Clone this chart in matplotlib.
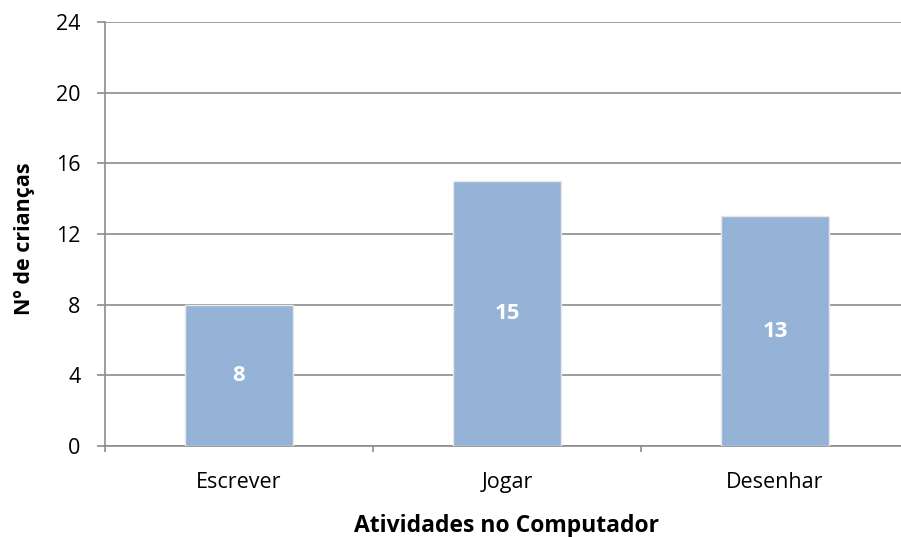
import numpy as np
import matplotlib.pyplot as plt

categorias = ['Escrever', 'Jogar', 'Desenhar']
criancas = [8, 15, 13]
y_ticks = [0, 4, 8, 12, 16, 20, 24]

plt.rcParams['font.family'] = ['Open Sans', 'DejaVu Sans']

fig = plt.figure(figsize=(9.01, 5.37), dpi=100)
# the plot area runs past the right edge, as in the original
ax = fig.add_axes([105 / 901, 1 - 446 / 537, 804 / 901, 424 / 537])

x = np.arange(len(categorias))
barras = ax.bar(x, criancas, width=0.4, color='#95B3D7',
                edgecolor='#E8E8E8', linewidth=1, zorder=3)

for b, v in zip(barras, criancas):
    ax.text(b.get_x() + b.get_width() / 2, v / 2, str(v),
            ha='center', va='center', color='white',
            fontsize=16, fontweight='bold', zorder=4)

ax.set_xlim(-0.5, len(categorias) - 0.5)
ax.set_ylim(0, 24)
ax.set_yticks(y_ticks)
ax.yaxis.grid(True, color='#8C8C8C', linewidth=1.2, zorder=0)

ax.set_xticks(x)
ax.set_xticklabels(categorias, fontsize=15.5)
ax.set_xticks(np.arange(len(categorias) + 1) - 0.5, minor=True)
ax.tick_params(axis='x', which='major', length=0, pad=18.5)
ax.tick_params(axis='x', which='minor', length=4.5, color='#8C8C8C', width=1.2)
ax.tick_params(axis='y', length=5.8, color='#8C8C8C', width=1.2, labelsize=15.5, pad=12)

for s in ['top', 'right']:
    ax.spines[s].set_visible(False)
for s in ['left', 'bottom']:
    ax.spines[s].set_color('#8C8C8C')
    ax.spines[s].set_linewidth(1.2)

ax.set_xlabel('Atividades no Computador', fontsize=16.5, fontweight='bold', labelpad=15.5)
ax.set_ylabel('Nº de crianças', fontsize=15.5, fontweight='bold')
ax.yaxis.set_label_coords(-0.087, 0.488)

fig.savefig('out.png', dpi=100)
